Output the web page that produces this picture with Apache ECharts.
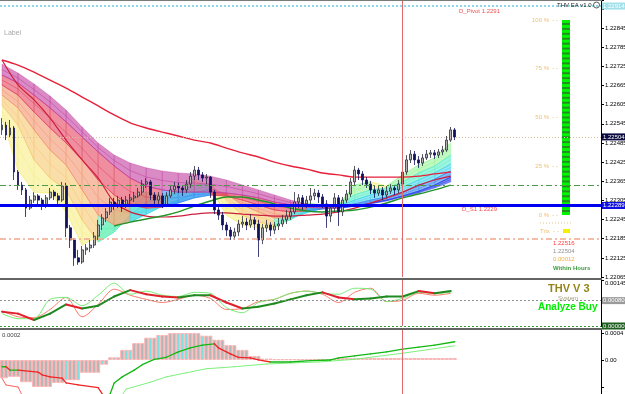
<!DOCTYPE html>
<html>
<head>
<meta charset="utf-8">
<script src="https://cdn.jsdelivr.net/npm/echarts@6/dist/echarts.min.js"></script>
<style>
  html, body { margin: 0; padding: 0; background: #fff; }
  #chart { width: 625px; height: 394px; }
</style>
</head>
<body>
<div id="chart"></div>
<script>
// bar slots on the time axis (114 candles + chart shift on the right)
const slots = 150;

// candles: [open, close, low, high]
const candles = [
  [1.22526, 1.22541, 1.22510, 1.22563], [1.22541, 1.22510, 1.22494, 1.22551], [1.22510, 1.22532, 1.22501, 1.22557],
  [1.22532, 1.22394, 1.22369, 1.22538], [1.22394, 1.22353, 1.22338, 1.22400], [1.22353, 1.22338, 1.22322, 1.22363],
  [1.22338, 1.22281, 1.22253, 1.22344], [1.22281, 1.22306, 1.22275, 1.22319], [1.22306, 1.22319, 1.22297, 1.22331],
  [1.22319, 1.22306, 1.22287, 1.22325], [1.22306, 1.22291, 1.22275, 1.22313], [1.22291, 1.22313, 1.22281, 1.22322],
  [1.22313, 1.22331, 1.22306, 1.22344], [1.22331, 1.22319, 1.22306, 1.22338], [1.22319, 1.22306, 1.22291, 1.22328],
  [1.22306, 1.22350, 1.22300, 1.22363], [1.22350, 1.22219, 1.22190, 1.22360], [1.22219, 1.22181, 1.22156, 1.22228],
  [1.22181, 1.22125, 1.22100, 1.22187], [1.22125, 1.22112, 1.22103, 1.22150], [1.22112, 1.22150, 1.22106, 1.22162],
  [1.22150, 1.22156, 1.22134, 1.22168], [1.22156, 1.22165, 1.22143, 1.22181], [1.22165, 1.22193, 1.22156, 1.22206],
  [1.22193, 1.22228, 1.22181, 1.22244], [1.22228, 1.22250, 1.22212, 1.22262], [1.22250, 1.22269, 1.22237, 1.22281],
  [1.22269, 1.22300, 1.22259, 1.22313], [1.22300, 1.22291, 1.22275, 1.22313], [1.22291, 1.22306, 1.22281, 1.22319],
  [1.22306, 1.22287, 1.22269, 1.22316], [1.22287, 1.22306, 1.22281, 1.22319], [1.22306, 1.22313, 1.22294, 1.22325],
  [1.22313, 1.22319, 1.22300, 1.22331], [1.22319, 1.22331, 1.22313, 1.22344], [1.22331, 1.22356, 1.22322, 1.22369],
  [1.22356, 1.22363, 1.22344, 1.22375], [1.22363, 1.22322, 1.22306, 1.22369], [1.22322, 1.22306, 1.22287, 1.22331],
  [1.22306, 1.22319, 1.22294, 1.22331], [1.22319, 1.22291, 1.22281, 1.22328], [1.22291, 1.22319, 1.22284, 1.22331],
  [1.22319, 1.22338, 1.22313, 1.22350], [1.22338, 1.22350, 1.22325, 1.22363], [1.22350, 1.22344, 1.22328, 1.22360],
  [1.22344, 1.22338, 1.22319, 1.22353], [1.22338, 1.22356, 1.22328, 1.22369], [1.22356, 1.22381, 1.22344, 1.22394],
  [1.22381, 1.22400, 1.22369, 1.22413], [1.22400, 1.22385, 1.22369, 1.22410], [1.22385, 1.22375, 1.22363, 1.22394],
  [1.22375, 1.22378, 1.22356, 1.22388], [1.22378, 1.22331, 1.22313, 1.22381], [1.22331, 1.22275, 1.22262, 1.22338],
  [1.22275, 1.22259, 1.22244, 1.22284], [1.22259, 1.22228, 1.22212, 1.22269], [1.22228, 1.22212, 1.22193, 1.22237],
  [1.22212, 1.22193, 1.22181, 1.22222], [1.22193, 1.22206, 1.22181, 1.22219], [1.22206, 1.22231, 1.22193, 1.22244],
  [1.22231, 1.22237, 1.22219, 1.22256], [1.22237, 1.22228, 1.22212, 1.22250], [1.22228, 1.22244, 1.22219, 1.22262],
  [1.22244, 1.22231, 1.22212, 1.22253], [1.22231, 1.22181, 1.22128, 1.22244], [1.22181, 1.22219, 1.22168, 1.22231],
  [1.22219, 1.22228, 1.22206, 1.22244], [1.22228, 1.22212, 1.22193, 1.22237], [1.22212, 1.22225, 1.22200, 1.22237],
  [1.22225, 1.22231, 1.22212, 1.22250], [1.22231, 1.22244, 1.22222, 1.22259], [1.22244, 1.22256, 1.22231, 1.22275],
  [1.22256, 1.22269, 1.22244, 1.22281], [1.22269, 1.22300, 1.22262, 1.22331], [1.22300, 1.22313, 1.22281, 1.22325],
  [1.22313, 1.22294, 1.22275, 1.22322], [1.22294, 1.22306, 1.22281, 1.22319], [1.22306, 1.22319, 1.22294, 1.22344],
  [1.22319, 1.22328, 1.22306, 1.22341], [1.22328, 1.22316, 1.22297, 1.22338], [1.22316, 1.22294, 1.22281, 1.22325],
  [1.22294, 1.22256, 1.22219, 1.22306], [1.22256, 1.22281, 1.22237, 1.22291], [1.22281, 1.22313, 1.22269, 1.22328],
  [1.22313, 1.22269, 1.22225, 1.22322], [1.22269, 1.22306, 1.22256, 1.22316], [1.22306, 1.22325, 1.22297, 1.22338],
  [1.22325, 1.22363, 1.22316, 1.22375], [1.22363, 1.22400, 1.22353, 1.22413], [1.22400, 1.22388, 1.22369, 1.22407],
  [1.22388, 1.22369, 1.22353, 1.22397], [1.22369, 1.22356, 1.22344, 1.22378], [1.22356, 1.22338, 1.22325, 1.22366],
  [1.22338, 1.22328, 1.22313, 1.22350], [1.22328, 1.22338, 1.22319, 1.22350], [1.22338, 1.22322, 1.22306, 1.22347],
  [1.22322, 1.22334, 1.22313, 1.22350], [1.22334, 1.22344, 1.22325, 1.22356], [1.22344, 1.22338, 1.22322, 1.22353],
  [1.22338, 1.22356, 1.22328, 1.22369], [1.22356, 1.22394, 1.22347, 1.22407], [1.22394, 1.22432, 1.22385, 1.22447],
  [1.22432, 1.22450, 1.22422, 1.22463], [1.22450, 1.22432, 1.22416, 1.22460], [1.22432, 1.22422, 1.22407, 1.22444],
  [1.22422, 1.22438, 1.22413, 1.22450], [1.22438, 1.22450, 1.22432, 1.22463], [1.22450, 1.22454, 1.22438, 1.22463],
  [1.22454, 1.22447, 1.22435, 1.22463], [1.22447, 1.22457, 1.22438, 1.22466], [1.22457, 1.22463, 1.22447, 1.22476],
  [1.22463, 1.22494, 1.22457, 1.22507], [1.22494, 1.22526, 1.22488, 1.22535], [1.22526, 1.22504, 1.22494, 1.22532]
];

// moving-average ribbon, sampled every 4 bars (fan0 fastest ... fan5 slowest)
const fanIdx = [0, 4, 8, 12, 16, 20, 24, 28, 32, 36, 40, 44, 48, 52, 56, 60, 64, 68, 72, 76, 80, 84, 88, 92, 96, 100, 104, 108, 112];
const fan0 = [1.22563, 1.22400, 1.22331, 1.22328, 1.22269, 1.22165, 1.22193, 1.22275, 1.22306, 1.22331, 1.22319, 1.22338, 1.22375, 1.22344, 1.22259, 1.22228, 1.22219, 1.22219, 1.22259, 1.22297, 1.22291, 1.22291, 1.22353, 1.22363, 1.22350, 1.22385, 1.22416, 1.22438, 1.22485];
const fan1 = [1.22604, 1.22541, 1.22432, 1.22375, 1.22338, 1.22244, 1.22175, 1.22206, 1.22259, 1.22300, 1.22313, 1.22328, 1.22353, 1.22356, 1.22306, 1.22259, 1.22237, 1.22228, 1.22244, 1.22275, 1.22287, 1.22291, 1.22322, 1.22338, 1.22344, 1.22363, 1.22391, 1.22413, 1.22447];
const fan2 = [1.22635, 1.22595, 1.22526, 1.22463, 1.22416, 1.22338, 1.22259, 1.22228, 1.22237, 1.22262, 1.22287, 1.22306, 1.22328, 1.22341, 1.22325, 1.22291, 1.22269, 1.22250, 1.22250, 1.22266, 1.22281, 1.22287, 1.22306, 1.22322, 1.22331, 1.22347, 1.22369, 1.22391, 1.22419];
const fan3 = [1.22667, 1.22635, 1.22582, 1.22532, 1.22485, 1.22432, 1.22369, 1.22322, 1.22291, 1.22281, 1.22284, 1.22297, 1.22313, 1.22322, 1.22319, 1.22306, 1.22291, 1.22275, 1.22269, 1.22272, 1.22278, 1.22284, 1.22294, 1.22306, 1.22316, 1.22331, 1.22350, 1.22372, 1.22397];
const fan4 = [1.22698, 1.22673, 1.22635, 1.22595, 1.22551, 1.22504, 1.22457, 1.22413, 1.22375, 1.22350, 1.22338, 1.22331, 1.22331, 1.22331, 1.22328, 1.22322, 1.22313, 1.22300, 1.22291, 1.22284, 1.22281, 1.22281, 1.22287, 1.22297, 1.22306, 1.22319, 1.22334, 1.22353, 1.22378];
const fan5 = [1.22732, 1.22704, 1.22670, 1.22632, 1.22588, 1.22535, 1.22485, 1.22447, 1.22422, 1.22407, 1.22397, 1.22391, 1.22388, 1.22381, 1.22369, 1.22353, 1.22338, 1.22322, 1.22306, 1.22294, 1.22287, 1.22284, 1.22287, 1.22294, 1.22303, 1.22316, 1.22328, 1.22344, 1.22363];
const fanCurves = [fan0, fan1, fan2, fan3, fan4, fan5];

const redSlow = [1.22745, 1.22729, 1.22707, 1.22682, 1.22657, 1.22629, 1.22601, 1.22573, 1.22548, 1.22532, 1.22519, 1.22507, 1.22494, 1.22485, 1.22469, 1.22454, 1.22441, 1.22425, 1.22413, 1.22403, 1.22391, 1.22385, 1.22378, 1.22378, 1.22378, 1.22378, 1.22381, 1.22388, 1.22394];
const redMid = [1.22745, 1.22667, 1.22620, 1.22563, 1.22494, 1.22432, 1.22375, 1.22300, 1.22269, 1.22256, 1.22253, 1.22256, 1.22262, 1.22266, 1.22266, 1.22262, 1.22259, 1.22256, 1.22256, 1.22259, 1.22262, 1.22269, 1.22281, 1.22297, 1.22313, 1.22331, 1.22353, 1.22369, 1.22381];
const greenIdx = [28, 32, 36, 40, 44, 48, 52, 56, 60, 64, 68, 72, 76, 80, 84, 88, 92, 96, 100, 104, 108, 112];
const greenMa = [1.22225, 1.22237, 1.22247, 1.22256, 1.22269, 1.22287, 1.22303, 1.22316, 1.22316, 1.22306, 1.22294, 1.22281, 1.22272, 1.22269, 1.22272, 1.22275, 1.22284, 1.22297, 1.22313, 1.22325, 1.22338, 1.22353];

// price levels
const pivotLevel = 1.22914;
const bidLevel = 1.22504;
const greenLevel = 1.22353;
const s1Level = 1.22289;
const lowLevel = 1.22184;
const cursorBar = 100;

// THV oscillator (sampled every 4 bars)
const oscMain = [0.00045, 0.00039, 0.00019, 0.00039, 0.00068, 0.00055, 0.00064, 0.00093, 0.00113, 0.00100, 0.00093, 0.00090, 0.00097, 0.00097, 0.00074, 0.00055, 0.00061, 0.00071, 0.00084, 0.00097, 0.00106, 0.00090, 0.00084, 0.00087, 0.00093, 0.00093, 0.00110, 0.00103, 0.00110];
const oscGreen = [0.00039, 0.00023, 0.00023, 0.00084, 0.00090, 0.00064, 0.00097, 0.00135, 0.00100, 0.00110, 0.00097, 0.00093, 0.00106, 0.00103, 0.00058, 0.00042, 0.00074, 0.00084, 0.00103, 0.00110, 0.00103, 0.00100, 0.00119, 0.00116, 0.00077, 0.00087, 0.00106, 0.00103, 0.00106];
const oscRed = [0.00048, 0.00029, 0.00026, 0.00052, 0.00090, 0.00029, 0.00068, 0.00116, 0.00097, 0.00084, 0.00074, 0.00084, 0.00097, 0.00087, 0.00052, 0.00055, 0.00077, 0.00084, 0.00103, 0.00110, 0.00100, 0.00074, 0.00106, 0.00119, 0.00077, 0.00081, 0.00103, 0.00097, 0.00103];
const oscMid = 0.0008;

// lower histogram, one value per bar
const hist = [
  -0.00027, -0.00027, -0.00025, -0.00025, -0.00025, -0.00033, -0.00033, -0.00033, -0.00040, -0.00040,
  -0.00040, -0.00040, -0.00040, -0.00034, -0.00034, -0.00034, -0.00030, -0.00030, -0.00030, -0.00030,
  -0.00019, -0.00019, -0.00019, -0.00019, -0.00019, -0.00007, -0.00007, 0.00004, 0.00004, 0.00004,
  0.00015, 0.00015, 0.00015, 0.00025, 0.00025, 0.00025, 0.00033, 0.00033, 0.00033, 0.00037,
  0.00037, 0.00037, 0.00040, 0.00040, 0.00040, 0.00040, 0.00040, 0.00040, 0.00040, 0.00040,
  0.00036, 0.00036, 0.00036, 0.00030, 0.00030, 0.00030, 0.00022, 0.00022, 0.00022, 0.00015,
  0.00015, 0.00015, 0.00006, 0.00006, 0.00006, 0.00002, 0.00002, 0.00002, 0.00001, 0.00001,
  0.00001, 0.00001, 0.00001, 0.00001, 0.00001, 0.00001, 0.00001, 0.00001, 0.00001, 0.00001,
  0.00001, 0.00001, 0.00001, 0.00001, 0.00003, 0.00003, 0.00003, 0.00003, 0.00003, 0.00003,
  0.00003, 0.00003, 0.00003, 0.00003, 0.00003, 0.00003, 0.00003, 0.00003, 0.00003, 0.00003,
  0.00003, 0.00003, 0.00003, 0.00003, 0.00003, 0.00003, 0.00003, 0.00003, 0.00003, 0.00003,
  0.00003, 0.00003, 0.00003, 0.00003
];
const histCyan = [16, 19, 25, 28, 31, 32, 37, 39, 44, 45, 46, 50];
// step lines of the lower panel: [bar, value]
const trendA = [[0, -0.00010], [1, -0.00010], [2, -0.00015], [4, -0.00015], [9, -0.00018], [10, -0.00022], [12, -0.00025], [15, -0.00027], [16, -0.00034], [19, -0.00037], [24, -0.00041], [26, -0.00059], [27, -0.00050], [28, -0.00034], [30, -0.00025], [33, -0.00015], [35, -0.00007], [38, 0.00001], [41, 0.00004], [44, 0.00012], [47, 0.00018], [50, 0.00022], [53, 0.00024], [54, 0.00018], [57, 0.00009], [59, 0.00004], [62, 0.00003], [64, 0.00000], [67, -0.00003], [72, -0.00003], [77, -0.00001], [82, 0.00000], [84, 0.00003], [88, 0.00006], [92, 0.00009], [96, 0.00012], [100, 0.00016], [104, 0.00019], [108, 0.00022], [113, 0.00027]];
const trendB = [[0, -0.00027], [1, -0.00037], [4, -0.00040], [5, -0.00052], [6, -0.00067], [20, -0.00089], [30, -0.00052], [31, -0.00043], [37, -0.00033], [41, -0.00025], [46, -0.00019], [51, -0.00013], [58, -0.00010], [66, -0.00006], [74, -0.00004], [79, -0.00003], [88, 0.00001], [100, 0.00010], [113, 0.00021]];

const strength = 100;

const warm = ['#f6ef86', '#f6c872', '#f2956e', '#e2425e', '#c23d9e'];
const cool = ['#9af59a', '#5eeec6', '#48d6ec', '#3a8cf2', '#2a40ea'];
const font = '"Liberation Sans", Arial, sans-serif';

const cats = Array.from({ length: slots }, (_, i) => String(i));

// one quad of a ribbon band, colored by the direction of the band
function bandItem(b) {
  return function (params, api) {
    const k = params.dataIndex;
    if (k === 0) return null;
    const lo = fanCurves[b], hi = fanCurves[b + 1];
    const x0 = fanIdx[k - 1], x1 = fanIdx[k];
    const pts = [
      api.coord([x0, lo[k - 1]]), api.coord([x1, lo[k]]),
      api.coord([x1, hi[k]]), api.coord([x0, hi[k - 1]])
    ];
    const falling = lo[k] + hi[k] < lo[k - 1] + hi[k - 1];
    const color = (falling ? warm : cool)[b];
    const mid0 = api.coord([x0, (lo[k - 1] + hi[k - 1]) / 2]);
    const mid1 = api.coord([x1, (lo[k] + hi[k]) / 2]);
    return {
      type: 'group',
      children: [
        { type: 'polygon', shape: { points: pts }, style: { fill: color, opacity: 0.6, stroke: color, lineWidth: 0.6 } },
        { type: 'line', shape: { x1: pts[0][0], y1: pts[0][1], x2: pts[1][0], y2: pts[1][1] }, style: { stroke: color, lineWidth: 0.8, opacity: 0.95 } },
        { type: 'line', shape: { x1: mid0[0], y1: mid0[1], x2: mid1[0], y2: mid1[1] }, style: { stroke: color, lineWidth: 0.6, opacity: 0.9 } }
      ]
    };
  };
}

// polyline whose segments are green when rising, red when falling
function slopeLine(points, up, down, width) {
  return function (params, api) {
    const k = params.dataIndex;
    if (k === 0) return null;
    const p0 = api.coord(points[k - 1]), p1 = api.coord(points[k]);
    return {
      type: 'line',
      shape: { x1: p0[0], y1: p0[1], x2: p1[0], y2: p1[1] },
      style: { stroke: points[k][1] >= points[k - 1][1] ? up : down, lineWidth: width, lineCap: 'round' }
    };
  };
}

function axisTag(value, text, bg, fg) {
  return {
    yAxis: value,
    label: {
      show: true, position: 'end', distance: 1, formatter: text,
      color: fg || '#fff', backgroundColor: bg, padding: [1, 1, 0, 1], fontSize: 6, fontFamily: font
    }
  };
}

const series = [];
for (let b = 0; b < 5; b++) {
  series.push({
    type: 'custom', xAxisIndex: 0, yAxisIndex: 0, silent: true, z: 1,
    renderItem: bandItem(b),
    encode: { x: 0, y: [1, 2] },
    data: fanIdx.map((x, k) => [x, fanCurves[b][k], fanCurves[b + 1][k]])
  });
}

series.push(
  {
    type: 'line', xAxisIndex: 0, yAxisIndex: 0, symbol: 'none', silent: true, z: 3, smooth: 0.3,
    data: fanIdx.map((x, k) => [x, redSlow[k]]),
    lineStyle: { color: '#e8203a', width: 1.4 }
  },
  {
    type: 'line', xAxisIndex: 0, yAxisIndex: 0, symbol: 'none', silent: true, z: 3, smooth: 0.3,
    data: fanIdx.map((x, k) => [x, redMid[k]]),
    lineStyle: { color: '#cc1f3f', width: 1.2 }
  },
  {
    type: 'line', xAxisIndex: 0, yAxisIndex: 0, symbol: 'none', silent: true, z: 3, smooth: 0.3,
    data: greenIdx.map((x, k) => [x, greenMa[k]]),
    lineStyle: { color: '#23952a', width: 1.5 }
  },
  {
    type: 'candlestick', xAxisIndex: 0, yAxisIndex: 0, z: 4, silent: true,
    barWidth: 2.4,
    data: candles,
    itemStyle: {
      color: '#b4b4b4', color0: '#12125c',
      borderColor: '#2c2c3c', borderColor0: '#12125c', borderWidth: 0.8
    },
    markLine: {
      silent: true, symbol: ['none', 'none'], animation: false, precision: 6,
      data: [
        Object.assign(axisTag(pivotLevel, '1.22914', '#9fe0ea'), { lineStyle: { color: '#8fd8e6', width: 2, type: [2, 2] } }),
        Object.assign(axisTag(bidLevel, '1.22504', '#0a0a40'), { lineStyle: { color: '#dcc0a0', width: 1, type: [1, 2] } }),
        { yAxis: greenLevel, label: { show: false }, lineStyle: { color: '#4a9a4a', width: 1, type: [6, 3, 2, 3] } },
        Object.assign(axisTag(s1Level, '1.22289', '#1010e0'), { lineStyle: { color: '#0000f0', width: 3, type: 'solid' } }),
        { yAxis: lowLevel, label: { show: false }, lineStyle: { color: '#f2a88c', width: 1.5, type: [6, 3, 2, 3] } },
        { xAxis: cursorBar, label: { show: false }, lineStyle: { color: '#e06a6a', width: 1, type: 'solid' } }
      ]
    }
  }
);

// oscillator panel
const oscMainPts = fanIdx.map((x, k) => [x, oscMain[k]]);
series.push(
  {
    type: 'line', xAxisIndex: 1, yAxisIndex: 1, symbol: 'none', silent: true, z: 2, smooth: 0.3,
    data: fanIdx.map((x, k) => [x, oscRed[k]]),
    lineStyle: { color: '#ff7a6a', width: 1 }
  },
  {
    type: 'line', xAxisIndex: 1, yAxisIndex: 1, symbol: 'none', silent: true, z: 2, smooth: 0.3,
    data: fanIdx.map((x, k) => [x, oscGreen[k]]),
    lineStyle: { color: '#74f074', width: 1 },
    markLine: {
      silent: true, symbol: ['none', 'none'], animation: false, precision: 8,
      data: [
        Object.assign(axisTag(oscMid, '0.00080', '#9a9a9a'), { lineStyle: { color: '#909090', width: 1, type: [2, 2] } }),
        Object.assign(axisTag(0, '0.00000', '#1f5f1f'), { lineStyle: { color: '#3a9a3a', width: 1, type: [2, 2] } }),
        { xAxis: cursorBar, label: { show: false }, lineStyle: { color: '#e06a6a', width: 1, type: 'solid' } }
      ]
    }
  },
  {
    type: 'custom', xAxisIndex: 1, yAxisIndex: 1, silent: true, z: 3,
    renderItem: slopeLine(oscMainPts, '#1f8a1f', '#e0202c', 2),
    encode: { x: 0, y: 1 },
    data: oscMainPts
  }
);

// histogram panel
series.push(
  {
    type: 'bar', xAxisIndex: 2, yAxisIndex: 2, silent: true, z: 2,
    barWidth: 4,
    data: hist.map((v, i) => ({ value: v, itemStyle: { color: histCyan.includes(i) ? '#7ee0e0' : '#b6b6b6' } })),
    itemStyle: { borderColor: '#ffb4b4', borderWidth: 1 },
    markLine: {
      silent: true, symbol: ['none', 'none'], animation: false,
      data: [{ xAxis: cursorBar, label: { show: false }, lineStyle: { color: '#e06a6a', width: 1, type: 'solid' } }]
    }
  },
  {
    type: 'custom', xAxisIndex: 2, yAxisIndex: 2, silent: true, z: 3,
    renderItem: slopeLine(trendB, '#7ef07e', '#ff6060', 1),
    encode: { x: 0, y: 1 },
    data: trendB
  },
  {
    type: 'custom', xAxisIndex: 2, yAxisIndex: 2, silent: true, z: 4,
    renderItem: slopeLine(trendA, '#12b812', '#f02424', 1.3),
    encode: { x: 0, y: 1 },
    data: trendA
  }
);

// strength gauge
series.push(
  {
    type: 'bar', xAxisIndex: 3, yAxisIndex: 3, silent: true, z: 2,
    barWidth: 8, data: [strength], itemStyle: { color: '#1f8f1f' }
  },
  {
    type: 'pictorialBar', xAxisIndex: 3, yAxisIndex: 3, silent: true, z: 3,
    symbol: 'rect', symbolRepeat: true, symbolSize: [8, 3], symbolMargin: 1,
    symbolBoundingData: 100, data: [strength], itemStyle: { color: '#00f400' }
  }
);

const hiddenX = i => ({
  type: 'category', gridIndex: i, data: cats, show: false, boundaryGap: true
});

const option = {
  animation: false,
  backgroundColor: '#ffffff',
  textStyle: { fontFamily: font },
  grid: [
    { left: 0, top: 0, width: 601, height: 277, outerBoundsMode: 'none' },
    { left: 0, top: 280, width: 601, height: 46, outerBoundsMode: 'none' },
    { left: 0, top: 330, width: 601, height: 84, outerBoundsMode: 'none' },
    { left: 562, top: 20, width: 8, height: 195, outerBoundsMode: 'none' }
  ],
  xAxis: [hiddenX(0), hiddenX(1), hiddenX(2),
    { type: 'category', gridIndex: 3, data: ['s'], show: false }],
  yAxis: [
    {
      type: 'value', gridIndex: 0, position: 'right', min: 1.22065, max: 1.22933, interval: 0.0006,
      axisLine: { show: true, lineStyle: { color: '#000', width: 1 } },
      axisTick: { show: true, length: 3, lineStyle: { color: '#000' } },
      splitLine: { show: false },
      axisLabel: { fontSize: 6, color: '#000', margin: 4, formatter: v => (v > 1.2288 ? '' : v.toFixed(5)) }
    },
    {
      type: 'value', gridIndex: 1, position: 'right', min: 0, max: 0.00145, interval: 0.00145,
      axisLine: { show: true, lineStyle: { color: '#000', width: 1 } },
      axisTick: { show: true, length: 3, lineStyle: { color: '#000' } },
      splitLine: { show: false },
      axisLabel: { fontSize: 6, color: '#000', margin: 4, verticalAlign: 'top', formatter: v => (v > 0 ? v.toFixed(5) : '') }
    },
    {
      type: 'value', gridIndex: 2, position: 'right', min: -0.0008, max: 0.000444, interval: 0.0004,
      axisLine: { show: true, lineStyle: { color: '#000', width: 1 } },
      axisTick: { show: true, length: 3, lineStyle: { color: '#000' } },
      splitLine: { show: false },
      axisLabel: {
        fontSize: 6, color: '#000', margin: 4,
        formatter: v => (v > 0.0001 ? v.toFixed(4) : (Math.abs(v) < 1e-9 ? '0.00' : ''))
      }
    },
    {
      type: 'value', gridIndex: 3, position: 'left', min: 0, max: 100, interval: 25,
      axisLine: { show: false }, axisTick: { show: false }, splitLine: { show: false },
      axisLabel: { fontSize: 6, color: '#ecc070', margin: 4, formatter: '{value} %  - -' }
    }
  ],
  series: series,
  graphic: [
    { type: 'rect', z: 100, shape: { x: 0, y: 0, width: 602, height: 1 }, style: { fill: '#7a7a7a' } },
    { type: 'rect', z: 100, shape: { x: 0, y: 278, width: 602, height: 2 }, style: { fill: '#646464' } },
    { type: 'rect', z: 100, shape: { x: 0, y: 328, width: 602, height: 2 }, style: { fill: '#646464' } },
    { type: 'text', z: 100, x: 4, y: 30, style: { text: 'Label', fill: '#a8a8a8', font: '7px ' + font } },
    { type: 'text', z: 100, x: 459, y: 8, style: { text: 'D_Pivot 1.2291', fill: '#f05050', font: '6px ' + font } },
    { type: 'text', z: 100, x: 462, y: 206, style: { text: 'D_S1 1.2229', fill: '#f05050', font: '6px ' + font } },
    { type: 'text', z: 100, x: 557, y: 2, style: { text: 'THV EA v1.0', fill: '#202020', font: '6px ' + font } },
    { type: 'circle', z: 100, shape: { cx: 596.5, cy: 5, r: 3 }, style: { fill: 'none', stroke: '#333', lineWidth: 0.8 } },
    { type: 'line', z: 100, shape: { x1: 540, y1: 223, x2: 572, y2: 223 }, style: { stroke: '#e6c58a', lineDash: [1, 2] } },
    { type: 'text', z: 100, x: 540, y: 228, style: { text: 'Trix  - -', fill: '#ecc070', font: '6px ' + font } },
    { type: 'rect', z: 100, shape: { x: 563, y: 229, width: 7, height: 4 }, style: { fill: '#f2f200' } },
    { type: 'text', z: 100, x: 553, y: 240, style: { text: '1.22516', fill: '#ff4040', font: '6px ' + font } },
    { type: 'text', z: 100, x: 553, y: 248, style: { text: '1.22504', fill: '#909090', font: '6px ' + font } },
    { type: 'text', z: 100, x: 553, y: 256, style: { text: '0.00012', fill: '#f0b040', font: '6px ' + font } },
    { type: 'text', z: 100, x: 553, y: 265, style: { text: 'Within Hours', fill: '#3a9a3a', font: 'bold 6px ' + font } },
    { type: 'text', z: 100, x: 548, y: 283, style: { text: 'THV V 3', fill: '#948418', font: 'bold 11px ' + font } },
    { type: 'text', z: 100, x: 558, y: 295, style: { text: 'System', fill: '#a89c7c', font: '6px ' + font } },
    {
      type: 'text', z: 100, x: 538, y: 302,
      style: { text: 'Analyze Buy', fill: '#00ee00', font: 'bold 10px ' + font, textShadowColor: '#808080', textShadowOffsetX: 1, textShadowOffsetY: 1, textShadowBlur: 0 }
    },
    { type: 'text', z: 100, x: 2, y: 332, style: { text: '0.0002', fill: '#404040', font: '6px ' + font } }
  ]
};

const chart = echarts.init(document.getElementById('chart'));
chart.setOption(option);
</script>
</body>
</html>
